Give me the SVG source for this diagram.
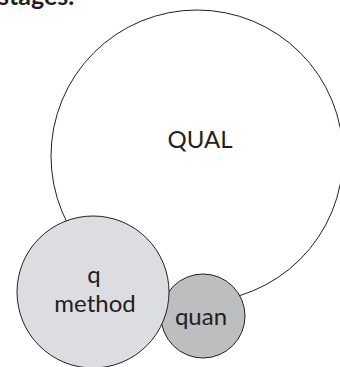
<svg xmlns="http://www.w3.org/2000/svg" width="340" height="367" viewBox="0 0 340 367">
<style>
.c{stroke:#231f20;stroke-width:1}
.t{font-family:Lato,"Open Sans",sans-serif;font-size:24px;fill:#231f20;text-anchor:middle}
</style>
<rect width="340" height="367" fill="#fff"/>
<text x="-2" y="5" style="font-family:Lato,sans-serif;font-weight:bold;font-size:25px;fill:#231f20">stages.</text>
<g id="qual">
<circle class="c" cx="197" cy="156" r="146" fill="#fff"/>
<text class="t" x="200" y="148">QUAL</text>
</g>
<g id="quan">
<circle class="c" cx="203" cy="316" r="42" fill="#bdbec0"/>
<text class="t" x="201" y="325">quan</text>
</g>
<g id="qmethod">
<circle class="c" cx="93" cy="292" r="76" fill="#dcdde0"/>
<text class="t" x="94" y="283">q</text>
<text class="t" x="95" y="312">method</text>
</g>
<g id="connectors"/>
</svg>
